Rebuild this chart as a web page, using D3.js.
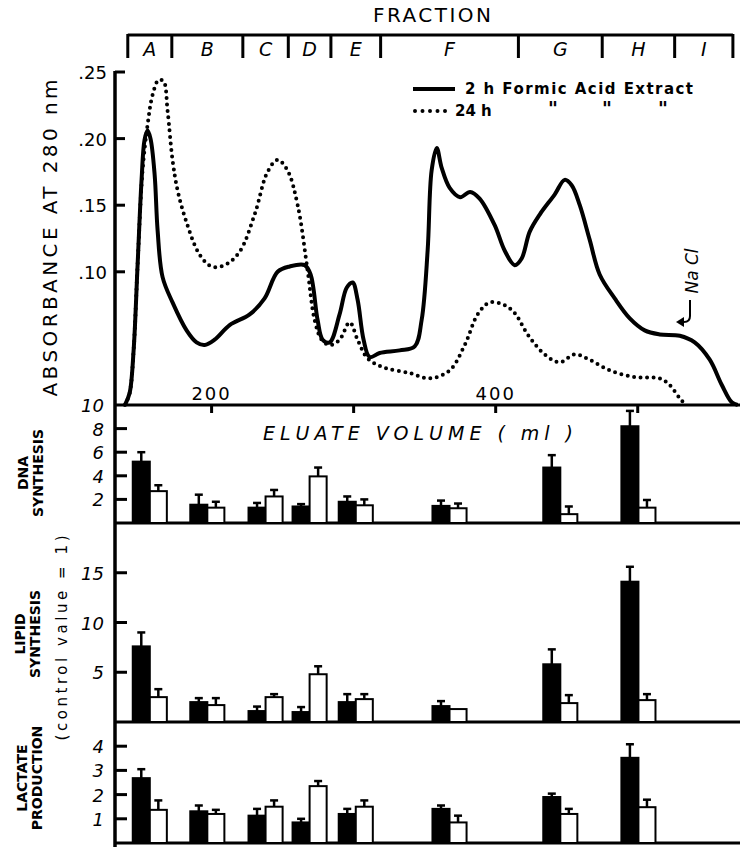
<!DOCTYPE html>
<html>
<head>
<meta charset="utf-8">
<script src="https://cdn.jsdelivr.net/npm/d3@7"></script>
<style>
  body { margin: 0; background: #fff; }
  svg { display: block; font-family: "DejaVu Sans", sans-serif; }
</style>
</head>
<body>
<svg id="chart" width="743" height="847"></svg>
<script>
// fraction brackets (edges in ml of eluate)
let fractions = ["A", "B", "C", "D", "E", "F", "G", "H", "I"];
let fractionEdges = [141, 172, 222, 254, 284, 319, 416, 475, 526, 567];

// elution profiles: volume (ml) and absorbance at 280 nm
let vol2h = [139, 142.3, 145.1, 147.9, 150.7, 152.8, 154.9, 157, 159.9, 162, 165.5, 172.5, 182.4, 189.4, 195.1, 202.1, 212.7, 226.8, 237.3, 246.5, 255, 265.5, 269.7, 274.6, 278.2, 283.1, 290.1, 295.1, 299.3, 302.8, 307, 311.3, 318.3, 332.4, 343, 347.9, 352.1, 354.9, 358.5, 362, 367.6, 375, 382, 388.7, 399.3, 406.3, 413.4, 418.3, 423.9, 431, 441.5, 448.6, 453.5, 459.2, 466.2, 473.2, 483.8, 494.4, 504.9, 515.5, 529.6, 540.1, 550.7, 559.2, 566.2, 570.4];
let abs2h = [0, 0.009, 0.041, 0.105, 0.169, 0.199, 0.206, 0.2, 0.173, 0.131, 0.096, 0.077, 0.056, 0.047, 0.045, 0.049, 0.06, 0.068, 0.08, 0.1, 0.104, 0.105, 0.098, 0.064, 0.049, 0.047, 0.068, 0.088, 0.092, 0.079, 0.049, 0.036, 0.039, 0.041, 0.044, 0.064, 0.116, 0.176, 0.193, 0.178, 0.163, 0.156, 0.16, 0.155, 0.135, 0.116, 0.105, 0.11, 0.13, 0.143, 0.158, 0.169, 0.165, 0.15, 0.124, 0.098, 0.08, 0.065, 0.056, 0.053, 0.052, 0.047, 0.034, 0.015, 0.002, 0];
let vol24h = [139, 142.3, 145.1, 147.9, 151.4, 154.9, 158.5, 162.7, 166.2, 169, 172.5, 176.1, 182.4, 191.5, 200, 209.2, 219.7, 230.3, 239.4, 246.5, 253.5, 260.6, 267.6, 272.5, 277.5, 283.1, 290.1, 297.2, 302.8, 309.9, 321.8, 339.4, 353.5, 367.6, 378.2, 387.3, 395.8, 406.3, 413.4, 422.5, 434.5, 445.1, 455.6, 466.2, 480.3, 497.9, 515.5, 522.5, 529.6, 533.8];
let abs24h = [0, 0.009, 0.041, 0.105, 0.176, 0.21, 0.233, 0.244, 0.243, 0.221, 0.184, 0.161, 0.137, 0.113, 0.104, 0.105, 0.115, 0.143, 0.175, 0.184, 0.176, 0.15, 0.101, 0.064, 0.049, 0.045, 0.049, 0.062, 0.049, 0.035, 0.028, 0.024, 0.02, 0.026, 0.045, 0.068, 0.077, 0.075, 0.069, 0.053, 0.038, 0.032, 0.038, 0.034, 0.026, 0.021, 0.02, 0.015, 0.005, 0];

// bioassays per fraction A..H (control value = 1), 2 h (black) and 24 h (white)
let barFractions = ["A", "B", "C", "D", "E", "F", "G", "H"];
let dna2h = [5.2, 1.55, 1.3, 1.4, 1.8, 1.45, 4.7, 8.2];
let dna2hErr = [0.8, 0.85, 0.4, 0.2, 0.45, 0.45, 1.05, 1.3];
let dna24h = [2.7, 1.3, 2.25, 3.95, 1.5, 1.25, 0.75, 1.3];
let dna24hErr = [0.5, 0.5, 0.55, 0.75, 0.5, 0.4, 0.65, 0.65];
let lipid2h = [7.6, 2.0, 1.1, 1.0, 2.0, 1.6, 5.8, 14.1];
let lipid2hErr = [1.4, 0.4, 0.45, 0.5, 0.8, 0.5, 1.5, 1.5];
let lipid24h = [2.5, 1.7, 2.5, 4.8, 2.3, 1.3, 1.9, 2.2];
let lipid24hErr = [0.8, 0.7, 0.3, 0.8, 0.5, 0, 0.8, 0.6];
let lactate2h = [2.68, 1.31, 1.13, 0.85, 1.2, 1.41, 1.9, 3.52];
let lactate2hErr = [0.37, 0.24, 0.28, 0.15, 0.21, 0.14, 0.14, 0.56];
let lactate24h = [1.37, 1.2, 1.5, 2.35, 1.5, 0.85, 1.2, 1.48];
let lactate24hErr = [0.39, 0.17, 0.26, 0.21, 0.26, 0.28, 0.21, 0.31];

let absTicks = [0.10, 0.15, 0.20, 0.25];
let volTicks = [200, 300, 400, 500];
let volLabels = [200, 400];

let svg = d3.select("#chart");
let left = 115, right = 740;

let x = d3.scaleLinear().domain([132, 572]).range([left, right]);
let yAbs = d3.scaleLinear().domain([0, 0.25]).range([405, 72]);

// ---- fraction header ----
svg.append("text")
  .attr("x", 432).attr("y", 22)
  .attr("text-anchor", "middle")
  .attr("font-size", 20)
  .attr("textLength", 118).attr("lengthAdjust", "spacing")
  .text("FRACTION");

let header = svg.append("g");
header.append("line")
  .attr("x1", x(fractionEdges[0])).attr("x2", x(fractionEdges[fractionEdges.length - 1]))
  .attr("y1", 35).attr("y2", 35)
  .attr("stroke", "#000").attr("stroke-width", 3);
header.selectAll("line.div")
  .data(fractionEdges)
  .enter().append("line")
  .attr("class", "div")
  .attr("x1", d => x(d)).attr("x2", d => x(d))
  .attr("y1", 34).attr("y2", 58)
  .attr("stroke", "#000").attr("stroke-width", 3);
header.selectAll("text")
  .data(fractions)
  .enter().append("text")
  .attr("x", (d, i) => (x(fractionEdges[i]) + x(fractionEdges[i + 1])) / 2)
  .attr("y", 56)
  .attr("text-anchor", "middle")
  .attr("font-size", 19)
  .attr("font-style", "italic")
  .text(d => d);

// ---- absorbance panel ----
svg.append("line")
  .attr("x1", left).attr("x2", left).attr("y1", 71).attr("y2", 847)
  .attr("stroke", "#000").attr("stroke-width", 3.5);
svg.append("line")
  .attr("x1", left).attr("x2", right).attr("y1", yAbs(0)).attr("y2", yAbs(0))
  .attr("stroke", "#000").attr("stroke-width", 3);

let absAxis = svg.append("g");
absAxis.selectAll("line")
  .data(absTicks)
  .enter().append("line")
  .attr("x1", left).attr("x2", left + 10)
  .attr("y1", d => yAbs(d)).attr("y2", d => yAbs(d))
  .attr("stroke", "#000").attr("stroke-width", 3);
absAxis.selectAll("text")
  .data(absTicks)
  .enter().append("text")
  .attr("x", 107).attr("y", d => yAbs(d) + 7)
  .attr("text-anchor", "end")
  .attr("font-size", 18)
  .text(d => d3.format(".2f")(d).replace(/^0/, ""));

let volAxis = svg.append("g");
volAxis.selectAll("line")
  .data(volTicks)
  .enter().append("line")
  .attr("x1", d => x(d)).attr("x2", d => x(d))
  .attr("y1", yAbs(0)).attr("y2", yAbs(0) + 8)
  .attr("stroke", "#000").attr("stroke-width", 3);
volAxis.selectAll("text")
  .data(volLabels)
  .enter().append("text")
  .attr("x", d => x(d)).attr("y", 400)
  .attr("text-anchor", "middle")
  .attr("font-size", 18).attr("letter-spacing", 2)
  .text(d => d);

svg.append("text")
  .attr("x", 263).attr("y", 440)
  .attr("font-size", 19).attr("font-style", "italic")
  .attr("textLength", 310).attr("lengthAdjust", "spacing")
  .text("ELUATE VOLUME ( ml )");

svg.append("text")
  .attr("transform", "translate(57,238) rotate(-90)")
  .attr("text-anchor", "middle")
  .attr("font-size", 20)
  .attr("textLength", 317).attr("lengthAdjust", "spacing")
  .text("ABSORBANCE AT 280 nm");

let line = d3.line().curve(d3.curveCatmullRom.alpha(0.5));

svg.append("path")
  .attr("d", line(vol24h.map((v, i) => [x(v), yAbs(abs24h[i])])))
  .attr("fill", "none").attr("stroke", "#000")
  .attr("stroke-width", 4).attr("stroke-linecap", "round")
  .attr("stroke-dasharray", "0 6.5");

svg.append("path")
  .attr("d", line(vol2h.map((v, i) => [x(v), yAbs(abs2h[i])])))
  .attr("fill", "none").attr("stroke", "#000")
  .attr("stroke-width", 4).attr("stroke-linejoin", "round");

// legend
let legend = svg.append("g");
legend.append("line")
  .attr("x1", 413).attr("x2", 455).attr("y1", 89).attr("y2", 89)
  .attr("stroke", "#000").attr("stroke-width", 4);
legend.append("text")
  .attr("x", 465).attr("y", 94)
  .attr("font-size", 15).attr("font-weight", "bold")
  .attr("textLength", 228).attr("lengthAdjust", "spacing")
  .text("2 h Formic Acid Extract");
legend.append("line")
  .attr("x1", 415).attr("x2", 447).attr("y1", 111).attr("y2", 111)
  .attr("stroke", "#000").attr("stroke-width", 4)
  .attr("stroke-linecap", "round").attr("stroke-dasharray", "0 7.5");
legend.append("text")
  .attr("x", 455).attr("y", 116)
  .attr("font-size", 15).attr("font-weight", "bold")
  .text("24 h");
legend.selectAll("text.ditto")
  .data([553, 607, 663])
  .enter().append("text")
  .attr("class", "ditto")
  .attr("x", d => d).attr("y", 115)
  .attr("text-anchor", "middle")
  .attr("font-size", 19).attr("font-weight", "bold")
  .text("\"");

// Na Cl marker
svg.append("text")
  .attr("transform", "translate(698,271) rotate(-90)")
  .attr("text-anchor", "middle")
  .attr("font-size", 17).attr("font-style", "italic")
  .text("Na Cl");
svg.append("path")
  .attr("d", "M690,300 L690,316 Q690,322 684,322 L679,322")
  .attr("fill", "none").attr("stroke", "#000").attr("stroke-width", 2);
svg.append("path")
  .attr("d", "M676,322 L684,317 L684,327 Z")
  .attr("fill", "#000");

// ---- bar panels ----
let panels = [
  { black: dna2h, blackErr: dna2hErr, white: dna24h, whiteErr: dna24hErr,
    max: 10, top: 405, bottom: 523, ticks: [2, 4, 6, 8], labels: [2, 4, 6, 8, 10] },
  { black: lipid2h, blackErr: lipid2hErr, white: lipid24h, whiteErr: lipid24hErr,
    max: 20, top: 523, bottom: 722, ticks: [5, 10, 15], labels: [5, 10, 15] },
  { black: lactate2h, blackErr: lactate2hErr, white: lactate24h, whiteErr: lactate24hErr,
    max: 5, top: 722, bottom: 843, ticks: [1, 2, 3, 4], labels: [1, 2, 3, 4] }
];

let barW = 12; // ml
let centers = barFractions.map((f, i) => (fractionEdges[i] + fractionEdges[i + 1]) / 2);

panels.forEach(function(p) {
  let y = d3.scaleLinear().domain([0, p.max]).range([p.bottom, p.top]);
  let g = svg.append("g");

  g.append("line")
    .attr("x1", left).attr("x2", right).attr("y1", y(0)).attr("y2", y(0))
    .attr("stroke", "#000").attr("stroke-width", 3);

  g.selectAll("line.tick")
    .data(p.ticks)
    .enter().append("line")
    .attr("class", "tick")
    .attr("x1", left).attr("x2", left + 12)
    .attr("y1", d => y(d)).attr("y2", d => y(d))
    .attr("stroke", "#000").attr("stroke-width", 3);
  g.selectAll("text.tl")
    .data(p.labels)
    .enter().append("text")
    .attr("class", "tl")
    .attr("x", 104).attr("y", d => y(d) + 7)
    .attr("text-anchor", "end")
    .attr("font-size", 18).attr("font-style", "italic")
    .text(d => d);

  let series = [
    { vals: p.black, errs: p.blackErr, x0: c => c - barW, fill: "#000" },
    { vals: p.white, errs: p.whiteErr, x0: c => c, fill: "#fff" }
  ];
  series.forEach(function(s) {
    let eb = g.selectAll(null)
      .data(s.vals.map((v, i) => ({ v: v, e: s.errs[i], c: centers[i] })).filter(d => d.e > 0))
      .enter();
    eb.append("line")
      .attr("x1", d => x(s.x0(d.c) + barW / 2)).attr("x2", d => x(s.x0(d.c) + barW / 2))
      .attr("y1", d => y(d.v)).attr("y2", d => y(d.v + d.e))
      .attr("stroke", "#000").attr("stroke-width", 2.5);
    eb.append("line")
      .attr("x1", d => x(s.x0(d.c) + barW / 2) - 4).attr("x2", d => x(s.x0(d.c) + barW / 2) + 4)
      .attr("y1", d => y(d.v + d.e)).attr("y2", d => y(d.v + d.e))
      .attr("stroke", "#000").attr("stroke-width", 2.5);

    g.selectAll(null)
      .data(s.vals)
      .enter().append("rect")
      .attr("x", (d, i) => x(s.x0(centers[i])))
      .attr("width", x(barW) - x(0))
      .attr("y", d => y(d))
      .attr("height", d => y(0) - y(d))
      .attr("fill", s.fill)
      .attr("stroke", "#000").attr("stroke-width", 2);
  });
});

// rotated panel titles (each line: baseline x, centre y)
function vlabel(lines, cx, cy, size, gap) {
  let t = svg.append("text")
    .attr("transform", "translate(" + cx + "," + cy + ") rotate(-90)")
    .attr("text-anchor", "middle")
    .attr("font-size", size).attr("font-weight", "bold");
  lines.forEach(function(l, i) {
    t.append("tspan").attr("x", 0).attr("dy", i === 0 ? 0 : gap).text(l);
  });
}
vlabel(["DNA", "SYNTHESIS"], 28, 473, 14, 15);
vlabel(["LIPID", "SYNTHESIS"], 25, 634, 14, 15);
vlabel(["LACTATE", "PRODUCTION"], 27, 778, 14, 15);

svg.append("text")
  .attr("transform", "translate(67,638) rotate(-90)")
  .attr("text-anchor", "middle")
  .attr("font-size", 15)
  .attr("textLength", 205).attr("lengthAdjust", "spacing")
  .text("(control value = 1)");
</script>
</body>
</html>
